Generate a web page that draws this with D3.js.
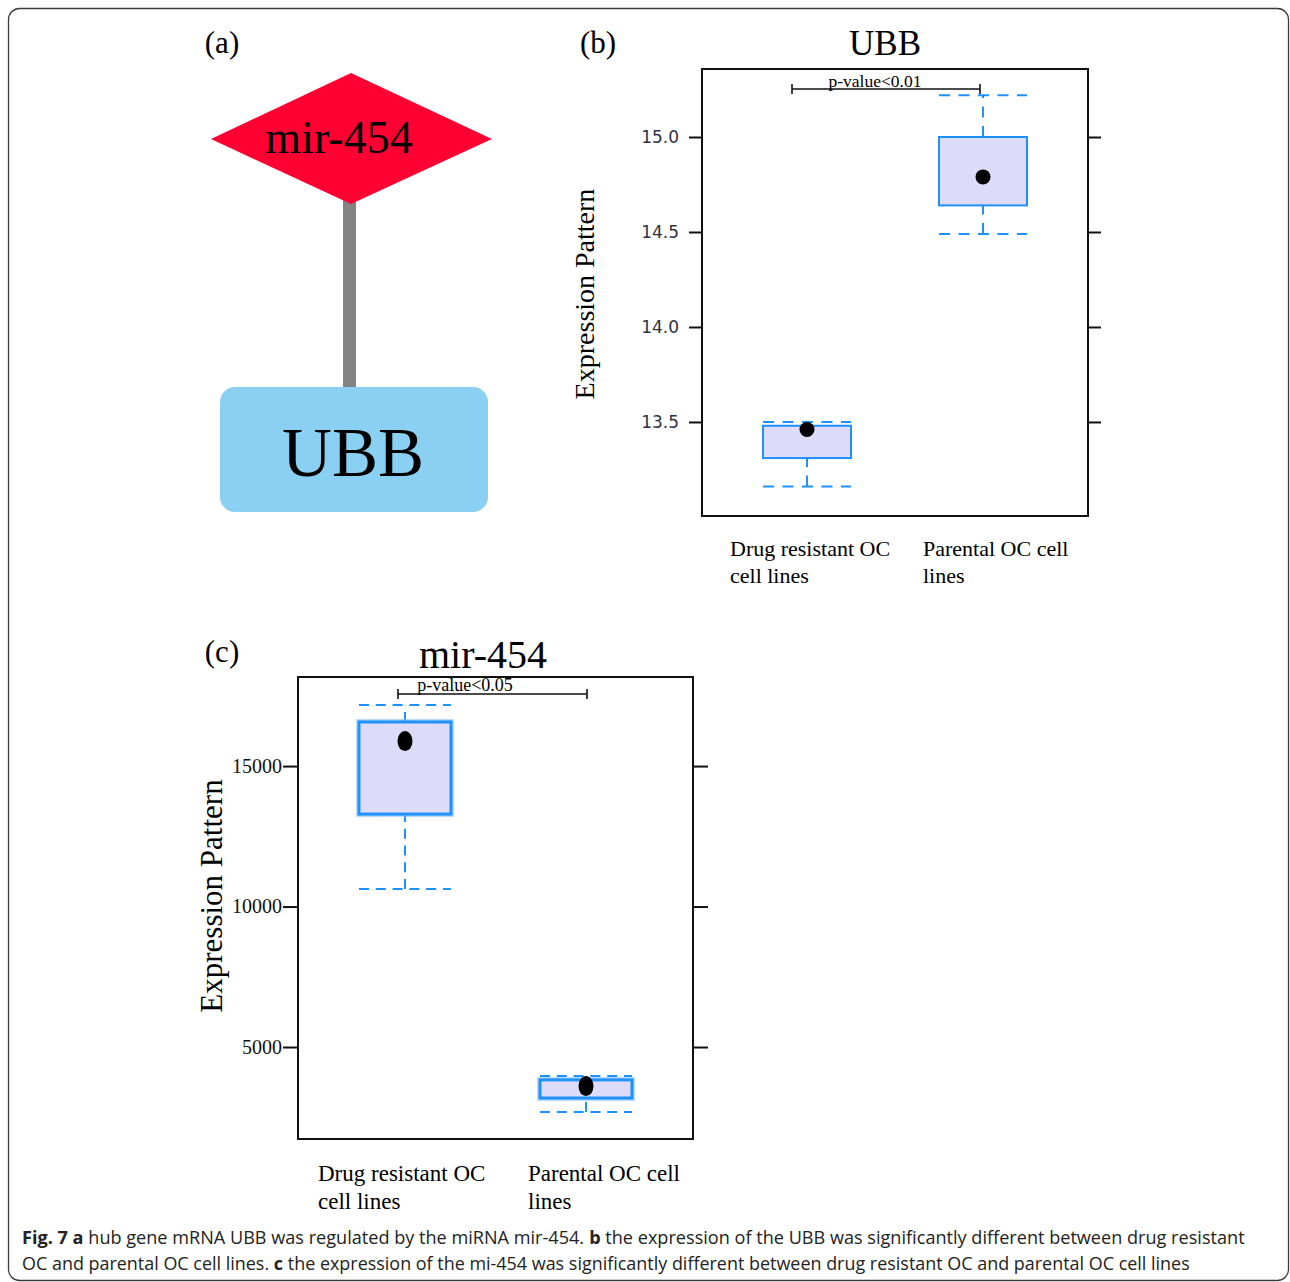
<!DOCTYPE html>
<html>
<head>
<meta charset="utf-8">
<script src="https://cdn.jsdelivr.net/npm/d3@7/dist/d3.min.js"></script>
<style>
  html, body { margin: 0; padding: 0; background: #fff; }
  svg { display: block; }
  .cap { white-space: pre; }
</style>
</head>
<body>
<svg id="fig" width="1290" height="1282"></svg>
<script>
// ---- data ----
const groups = ["Drug resistant OC cell lines", "Parental OC cell lines"];
const groupLabelLines = [["Drug resistant OC", "cell lines"], ["Parental OC cell", "lines"]];

// UBB expression (panel b)
const ubbWhiskerLow  = [13.16, 14.49];
const ubbQ1          = [13.31, 14.64];
const ubbQ3          = [13.48, 15.00];
const ubbWhiskerHigh = [13.50, 15.22];
const ubbMean        = [13.46, 14.79];
const ubbTicks       = [13.5, 14.0, 14.5, 15.0];
const ubbDomain      = [13.005, 15.358];
const ubbPLabel      = "p-value<0.01";

// mir-454 expression (panel c)
const mirWhiskerLow  = [10620, 2690];
const mirQ1          = [13290, 3185];
const mirQ3          = [16570, 3830];
const mirWhiskerHigh = [17170, 3970];
const mirMean        = [15890, 3610];
const mirTicks       = [5000, 10000, 15000];
const mirDomain      = [1726, 18170];
const mirPLabel      = "p-value<0.05";

// network nodes (panel a)
const networkNodes = ["mir-454", "UBB"];

const captionLines = [
  [["Fig. 7 a", true], [" hub gene mRNA UBB was regulated by the miRNA mir-454. ", false], ["b", true],
   [" the expression of the UBB was significantly different between drug resistant", false]],
  [["OC and parental OC cell lines. ", false], ["c", true],
   [" the expression of the mi-454 was significantly different between drug resistant OC and parental OC cell lines", false]]
];

// ---- drawing ----
const SERIF = "'Liberation Serif', 'Times New Roman', serif";
const BLUE = "#1e90ff";
const FILL = "#dcdcfa";
const svg = d3.select("#fig");

// outer figure frame
svg.append("rect")
  .attr("x", 8.5).attr("y", 8.5).attr("width", 1280).attr("height", 1272)
  .attr("rx", 11).attr("fill", "none").attr("stroke", "#3a3a3a").attr("stroke-width", 1.3);

function panelLetter(x, y, t) {
  svg.append("text").attr("x", x).attr("y", y).attr("font-family", SERIF)
    .attr("font-size", 31).attr("text-anchor", "middle").text(t);
}

// ---- panel a: regulatory network ----
panelLetter(222, 53, "(a)");
const gA = svg.append("g");
gA.append("line").attr("x1", 349.5).attr("x2", 349.5).attr("y1", 200).attr("y2", 388)
  .attr("stroke", "#838383").attr("stroke-width", 13);
gA.append("path")
  .attr("d", d3.line()([[211, 139], [351, 73], [492, 139], [351, 204]]) + "Z")
  .attr("fill", "#ff0033");
gA.append("text").attr("x", 339).attr("y", 153).attr("text-anchor", "middle")
  .attr("font-family", SERIF).attr("font-size", 46).text(networkNodes[0]);
gA.append("rect").attr("x", 220).attr("y", 387).attr("width", 268).attr("height", 125)
  .attr("rx", 15).attr("fill", "#89d0f3");
gA.append("text").attr("x", 353).attr("y", 476).attr("text-anchor", "middle")
  .attr("font-family", SERIF).attr("font-size", 69).text(networkNodes[1]);

// ---- box plot panel builder ----
function boxPanel(o) {
  const g = svg.append("g").attr("transform", `translate(${o.x},${o.y})`);
  const y = d3.scaleLinear().domain(o.domain).range([o.h, 0]);
  const x = d3.scalePoint().domain(groups).range(o.centers);

  // left axis with labels
  const left = g.append("g").call(d3.axisLeft(y).tickValues(o.ticks).tickFormat(o.fmt)
    .tickSize(o.tick).tickPadding(o.pad));
  left.select(".domain").remove();
  left.selectAll("line").attr("stroke", "#111").attr("stroke-width", 2);
  left.selectAll("text").attr("font-family", o.tickFont).attr("font-size", o.tickSize)
    .attr("fill", o.tickColor);
  // right axis, ticks only
  const right = g.append("g").attr("transform", `translate(${o.w},0)`)
    .call(d3.axisRight(y).tickValues(o.ticks).tickFormat("").tickSize(o.tick));
  right.select(".domain").remove();
  right.selectAll("line").attr("stroke", "#111").attr("stroke-width", 2);

  // frame
  g.append("rect").attr("width", o.w).attr("height", o.h)
    .attr("fill", "none").attr("stroke", "#111").attr("stroke-width", 2);

  const bw = o.boxW;
  groups.forEach((grp, i) => {
    const cx = x(grp);
    const b = g.append("g");
    // whiskers
    [[o.wLow[i], o.q1[i]], [o.q3[i], o.wHigh[i]]].forEach(([a, c]) => {
      b.append("line").attr("x1", cx).attr("x2", cx).attr("y1", y(a)).attr("y2", y(c))
        .attr("stroke", BLUE).attr("stroke-width", 2).attr("stroke-dasharray", o.dash);
    });
    // box
    if (o.halo) {
      b.append("rect").attr("x", cx - bw / 2).attr("y", y(o.q3[i]))
        .attr("width", bw).attr("height", y(o.q1[i]) - y(o.q3[i]))
        .attr("fill", "none").attr("stroke", "#7fbcff").attr("stroke-width", 6).attr("opacity", 0.55);
    }
    b.append("rect").attr("x", cx - bw / 2).attr("y", y(o.q3[i]))
      .attr("width", bw).attr("height", y(o.q1[i]) - y(o.q3[i]))
      .attr("fill", FILL).attr("stroke", BLUE).attr("stroke-width", o.boxStroke);
    // caps
    [o.wLow[i], o.wHigh[i]].forEach(v => {
      b.append("line").attr("x1", cx - bw / 2).attr("x2", cx + bw / 2).attr("y1", y(v)).attr("y2", y(v))
        .attr("stroke", BLUE).attr("stroke-width", 2).attr("stroke-dasharray", o.dash);
    });
    // mean
    b.append("ellipse").attr("cx", cx).attr("cy", y(o.mean[i]))
      .attr("rx", o.dotR[0]).attr("ry", o.dotR[1]).attr("fill", "#000");

    // category labels
    groupLabelLines[i].forEach((line, k) => {
      g.append("text").attr("x", cx + o.labelDx[i]).attr("y", o.h + o.labelY + k * o.labelGap)
        .attr("font-family", SERIF).attr("font-size", o.labelSize).text(line);
    });
  });

  // significance bracket
  const by = o.bracketY;
  const x1 = x(groups[0]) + o.bracketDx[0], x2 = x(groups[1]) + o.bracketDx[1];
  const br = g.append("g").attr("stroke", "#111").attr("stroke-width", 1.6);
  br.append("line").attr("x1", x1).attr("x2", x2).attr("y1", by).attr("y2", by);
  br.append("line").attr("x1", x1).attr("x2", x1).attr("y1", by - 5).attr("y2", by + 5);
  br.append("line").attr("x1", x2).attr("x2", x2).attr("y1", by - 5).attr("y2", by + 5);
  g.append("text").attr("x", o.pX).attr("y", o.pY).attr("text-anchor", "middle")
    .attr("font-family", SERIF).attr("font-size", o.pSize).text(o.pLabel);

  // title
  svg.append("text").attr("x", o.titleX).attr("y", o.titleY).attr("text-anchor", "middle")
    .attr("font-family", SERIF).attr("font-size", o.titleSize).text(o.title);

  // y-axis title
  svg.append("text").attr("transform", `translate(${o.ylabX},${o.ylabY}) rotate(-90)`)
    .attr("text-anchor", "middle").attr("font-family", SERIF).attr("font-size", o.ylabSize)
    .text("Expression Pattern");
}

// ---- panel b: UBB ----
panelLetter(598, 53, "(b)");
boxPanel({
  x: 702, y: 69, w: 386, h: 447, domain: ubbDomain, ticks: ubbTicks, fmt: d3.format(".1f"),
  centers: [105, 281], boxW: 88, boxStroke: 2, halo: false, dash: "11,8.5", dotR: [7.5, 7.5],
  wLow: ubbWhiskerLow, q1: ubbQ1, q3: ubbQ3, wHigh: ubbWhiskerHigh, mean: ubbMean,
  tick: 13, pad: 10, tickFont: "'DejaVu Sans', Verdana, sans-serif", tickSize: 17, tickColor: "#2f3140",
  labelDx: [-77, -60], labelY: 40, labelGap: 27, labelSize: 22,
  bracketY: 20, bracketDx: [-15, -3], pX: 173, pY: 18, pSize: 17.5, pLabel: ubbPLabel,
  title: "UBB", titleX: 885, titleY: 55, titleSize: 35,
  ylabX: 594, ylabY: 294, ylabSize: 28
});

// ---- panel c: mir-454 ----
panelLetter(222, 662, "(c)");
boxPanel({
  x: 298, y: 677, w: 395, h: 462, domain: mirDomain, ticks: mirTicks, fmt: d3.format("d"),
  centers: [107, 288], boxW: 92, boxStroke: 3, halo: true, dash: "10,6.8", dotR: [7.5, 10],
  wLow: mirWhiskerLow, q1: mirQ1, q3: mirQ3, wHigh: mirWhiskerHigh, mean: mirMean,
  tick: 15, pad: 1, tickFont: SERIF, tickSize: 20, tickColor: "#111",
  labelDx: [-87, -58], labelY: 42, labelGap: 28, labelSize: 23,
  bracketY: 17, bracketDx: [-7, 1], pX: 167, pY: 14, pSize: 18, pLabel: mirPLabel,
  title: "mir-454", titleX: 483, titleY: 668, titleSize: 40,
  ylabX: 222, ylabY: 896, ylabSize: 31
});

// ---- caption: segments laid end to end, then condensed to the line width ----
const capWidths = [1223, 1168];
captionLines.forEach((segs, i) => {
  const line = svg.append("g");
  let cursor = 0;
  segs.forEach(([s, bold]) => {
    const t = line.append("text").attr("class", "cap").attr("x", cursor).attr("y", 0)
      .attr("font-family", "'Open Sans', sans-serif").attr("font-size", 18.5)
      .attr("font-weight", bold ? "bold" : "normal").attr("fill", "#222").text(s);
    cursor += t.node().getComputedTextLength();
  });
  const sx = capWidths[i] / cursor;
  line.attr("transform", `translate(22,${1244 + i * 26}) scale(${sx},1)`);
});
</script>
</body>
</html>
